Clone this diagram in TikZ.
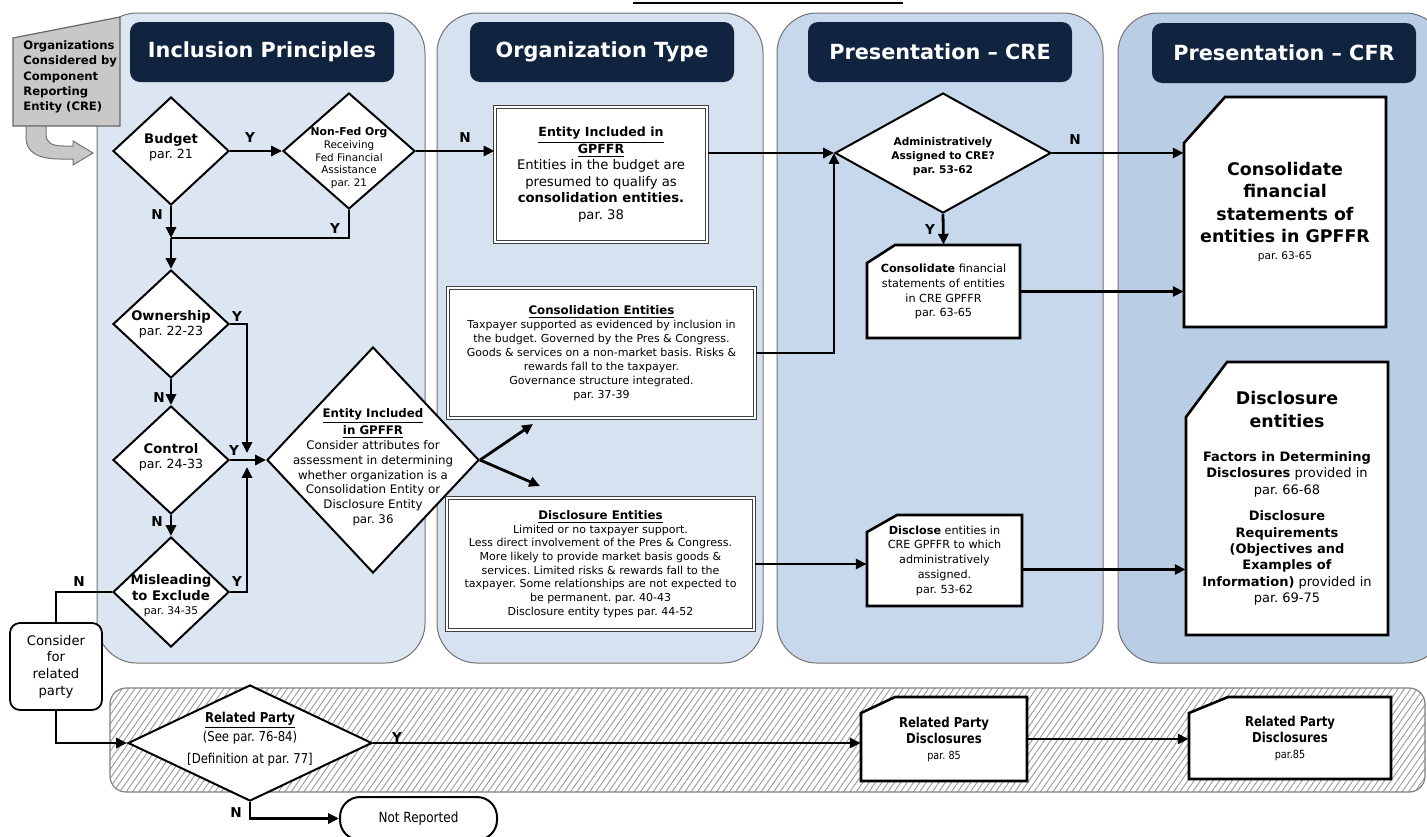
\documentclass[tikz,border=0pt]{standalone}
\usepackage{fontspec}
\setmainfont{DejaVu Sans}
\newfontfamily\condfont{DejaVu Sans}[FakeStretch=0.86]
\usetikzlibrary{arrows.meta,patterns.meta,positioning,shapes.geometric,calc}

\definecolor{laneA}{RGB}{220,230,242}
\definecolor{laneB}{RGB}{214,226,240}
\definecolor{laneC}{RGB}{200,216,236}
\definecolor{laneD}{RGB}{185,205,228}
\definecolor{navy}{RGB}{17,36,63}
\definecolor{startgray}{RGB}{200,200,200}

\newcommand{\fsz}[2]{\fontsize{#1}{#2}\selectfont}

\tikzset{>={Triangle[length=5.4pt,width=5pt]},
  lane/.style={draw=black!55,line width=0.5pt,rounded corners=20pt},
  band/.style={draw=black!50,line width=0.6pt,rounded corners=8pt,preaction={fill=white},
    pattern={Lines[angle=55,distance=2.6pt,line width=0.45pt]},pattern color=black!40},
  header/.style={fill=navy,rounded corners=5pt,text=white,font=\fsz{10.4}{12}\bfseries,
    minimum width=132pt,minimum height=30pt},
  decision/.style={diamond,draw,fill=white,line width=1pt,inner sep=0pt},
  dtext/.style={align=center,inner sep=0pt},
  dbox/.style={draw=black!75,double=white,double distance=1.1pt,line width=0.6pt,
    fill=white,align=flush center,inner sep=2pt},
  snipline/.style={draw=black,fill=white,line width=1.3pt},
  sniptext/.style={align=flush center,inner sep=1pt},
  flow/.style={line width=1.4pt,->},
  line/.style={line width=1.4pt},
  yn/.style={font=\fsz{6.8}{8}\bfseries,inner sep=0pt}
}

\newcommand{\snipbox}[9]{%
  \filldraw[snipline] ({#2-#4/2},{#3-#5/2+#7}) -- ({#2-#4/2+#6},{#3-#5/2}) -- ({#2+#4/2},{#3-#5/2})
    -- ({#2+#4/2},{#3+#5/2}) -- ({#2-#4/2},{#3+#5/2}) -- cycle;
  \node[sniptext,#8,minimum width=#4*0.5pt,minimum height=#5*0.5pt] (#1) at (#2,#3) {#9};}

\begin{document}
\frenchspacing
\begin{tikzpicture}[x=0.5pt,y=-0.5pt]
    \useasboundingbox (0,0) rectangle (1427,836);
    \fill[white] (0,0) rectangle (1427,836);
    \draw[line width=0.6pt] (633,3) -- (903,3);

    % lanes
    \draw[lane,fill=laneA] (97,13) rectangle (425,663);
    \draw[lane,fill=laneB] (437,13) rectangle (763,663);
    \draw[lane,fill=laneC] (777,13) rectangle (1103,663);
    \draw[lane,fill=laneD] (1118,13) rectangle (1445,663);
    \draw[band] (110,688) rectangle (1425,792);

    \node[header] (hdA) at (262,52) {Inclusion Principles};
    \node[header] (hdB) at (602,52) {Organization Type};
    \node[header] (hdC) at (940,52) {Presentation – CRE};
    \node[header] (hdD) at (1284,53) {Presentation – CFR};

    % start
    \filldraw[draw=black!60,fill=startgray,line width=0.6pt] (13,38) -- (120,17) -- (120,126) -- (13,126) -- cycle;
    \node[align=left,inner sep=0pt,anchor=west,font=\fsz{5.8}{7.7}\bfseries] (orgs) at (23,77)
        {Organizations\\Considered by\\Component\\Reporting\\Entity (CRE)};
    \filldraw[draw=black!55,fill=startgray,line width=0.5pt] (26,126) -- (46,126) -- (46,134)
        .. controls (46,143) and (52,146) .. (64,146) -- (73,146) -- (73,141) -- (93,153) -- (73,165)
        -- (73,159) -- (60,159) .. controls (38,159) and (26,152) .. (26,138) -- cycle;

    % inclusion principles
    \node[decision,minimum width=58pt,minimum height=54pt] (budget) at (171,151) {};
    \node[dtext,font=\fsz{6.3}{7.5}] (budgetT) at (171,147) {\textbf{\fsz{6.6}{7.5}Budget}\\par. 21};
    \node[decision,minimum width=66pt,minimum height=58pt] (nonfed) at (349,151) {};
    \node[dtext,font=\fsz{5.2}{6.3}] (nonfedT) at (349,158)
        {\textbf{\fsz{5.4}{6.3}Non-Fed Org}\\Receiving\\Fed Financial\\Assistance\\par. 21};
    \node[decision,minimum width=58pt,minimum height=54pt] (own) at (171,324) {};
    \node[dtext,font=\fsz{6.3}{7.5}] (ownT) at (171,324) {\textbf{\fsz{6.6}{7.5}Ownership}\\par. 22-23};
    \node[decision,minimum width=58pt,minimum height=54pt] (ctrl) at (171,460) {};
    \node[dtext,font=\fsz{6.3}{7.5}] (ctrlT) at (171,457) {\textbf{\fsz{6.6}{7.5}Control}\\par. 24-33};
    \node[decision,minimum width=58pt,minimum height=55pt] (mis) at (171,592) {};
    \node[dtext,font=\fsz{6.6}{8}\bfseries] (misT) at (171,596)
        {Misleading\\to Exclude\\[-1pt]{\fsz{5.3}{7}\mdseries par. 34-35}};
    \node[decision,minimum width=106pt,minimum height=113pt] (entincl) at (373,460) {};
    \node[dtext,font=\fsz{5.9}{7.4}] (entinclT) at (373,467)
        {\textbf{\underline{Entity Included}}\\\textbf{\underline{in GPFFR}}\\Consider attributes for\\
         assessment in determining\\whether organization is a\\Consolidation Entity or\\Disclosure Entity\\par. 36};

    % organization type
    \node[dbox,text width=100pt,minimum width=106pt,minimum height=67.5pt,font=\fsz{6.6}{8.3}] (entgp) at (601,174.5)
        {\textbf{\fsz{6.3}{8.3}\underline{Entity Included in}}\\\textbf{\fsz{6.3}{8.3}\underline{GPFFR}}\\
         Entities in the budget are\\presumed to qualify as\\\textbf{consolidation entities.}\\par. 38};
    \node[dbox,text width=149pt,minimum width=153.5pt,minimum height=65pt,font=\fsz{5.5}{7}] (conse) at (601.5,353)
        {\textbf{\fsz{5.9}{7}\underline{Consolidation Entities}}\\Taxpayer supported as evidenced by inclusion in\\
         the budget. Governed by the Pres \& Congress.\\Goods \& services on a non-market basis. Risks \&\\
         rewards fall to the taxpayer.\\Governance structure integrated.\\par. 37-39};
    \node[dbox,text width=149pt,minimum width=153.5pt,minimum height=66pt,font=\fsz{5.5}{6.85}] (disce) at (600.5,564)
        {\textbf{\fsz{5.9}{6.85}\underline{Disclosure Entities}}\\Limited or no taxpayer support.\\
         Less direct involvement of the Pres \& Congress.\\More likely to provide market basis goods \&\\
         services. Limited risks \& rewards fall to the\\taxpayer. Some relationships are not expected to\\
         be permanent. par. 40-43\\Disclosure entity types par. 44-52};

    % presentation CRE
    \node[decision,minimum width=108pt,minimum height=60pt] (admin) at (943,153) {};
    \node[dtext,font=\fsz{5.3}{7}\bfseries] (adminT) at (943,157) {Administratively\\Assigned to CRE?\\par. 53-62};
    \snipbox{conscre}{943.5}{291.5}{153}{93}{28}{18}{font=\fsz{5.6}{7.4},text width=72pt}
        {\textbf{Consolidate} financial\\statements of entities\\in CRE GPFFR\\par. 63-65}
    \snipbox{disccre}{944.5}{560.5}{155}{91}{30}{17}{font=\fsz{5.6}{7.4},text width=72pt}
        {\textbf{Disclose} entities in\\CRE GPFFR to which\\administratively\\assigned.\\par. 53-62}

    % presentation CFR
    \snipbox{cfrcons}{1285}{212}{202}{230}{41}{46}{font=\fsz{8.7}{11.3}\bfseries,text width=96pt}
        {Consolidate\\financial\\statements of\\entities in GPFFR\\[-2.8pt]{\fsz{5.3}{7}\mdseries par. 63-65}}
    \snipbox{cfrdisc}{1287}{498.5}{202}{273}{41}{55}{font=\fsz{6.5}{8.2},text width=96pt}
        {{\fsz{8.7}{11}\bfseries Disclosure}\\[3pt]{\fsz{8.7}{11}\bfseries entities}\\[9pt]
         \textbf{Factors in Determining}\\\textbf{Disclosures} provided in\\par. 66-68\\[5pt]
         \textbf{Disclosure}\\\textbf{Requirements}\\\textbf{(Objectives and}\\\textbf{Examples of}\\
         \textbf{Information)} provided in\\par. 69-75}

    % related party
    \node[draw,line width=0.9pt,fill=white,rounded corners=5pt,minimum width=46pt,minimum height=43.5pt,
        align=center,font=\fsz{6.6}{8.3},inner sep=1pt] (consider) at (56,666.5) {Consider\\for\\related\\party};
    \node[decision,minimum width=122pt,minimum height=58pt] (rp) at (250,743) {};
    \node[dtext,font=\condfont\fsz{6.8}{8.5}] (rpT) at (250,739)
        {\textbf{\underline{Related Party}}\\(See par. 76-84)\\[2.5pt]{[Definition at par. 77]}};
    \snipbox{rpd1}{944}{739}{166}{84}{34}{16}{font=\condfont\fsz{6.8}{8},text width=78pt}
        {\textbf{Related Party}\\\textbf{Disclosures}\\{\fsz{5.6}{7}par. 85}}
    \snipbox{rpd2}{1290}{738}{202}{82}{39}{16}{font=\condfont\fsz{6.8}{8},text width=96pt}
        {\textbf{Related Party}\\\textbf{Disclosures}\\{\fsz{5.6}{7}par.85}}
    \node[draw,line width=1pt,fill=white,rounded corners=10pt,minimum width=78.5pt,minimum height=21.5pt,
        font=\condfont\fsz{7}{8}] (notrep) at (418.5,818.5) {Not Reported};

    % connectors
    \coordinate (jA) at (171,238);
    \coordinate (jB) at (247,453);
    \coordinate (jC) at (247,467);
    \coordinate (toCons) at (533,424);
    \coordinate (toDisc) at (540,486);
    \draw[flow] (budget.east) -- (nonfed.west);
    \draw[flow] (budget.south) -- (jA);
    \draw[line] (nonfed.south) |- (jA);
    \draw[flow] (jA) -- (own.north);
    \draw[flow] (own.south) -- (ctrl.north);
    \draw[flow] (ctrl.south) -- (mis.north);
    \draw[flow] (own.east) -| (jB);
    \draw[flow] (mis.east) -| (jC);
    \draw[flow] (ctrl.east) -- (entincl.west);
    \draw[line] (mis.west) -| (consider.north);
    \draw[flow] (entincl.east) -- (toCons);
    \draw[flow] (entincl.east) -- (toDisc);
    \draw[flow] (nonfed.east) -- (nonfed.east -| entgp.west);
    \draw[flow] (admin.west -| entgp.east) -- (admin.west);
    \draw[flow] (conse.east) -| (admin.west);
    \draw[flow] (disce.east) -- (disce.east -| disccre.west);
    \draw[flow] (admin.east) -- (admin.east -| cfrcons.west);
    \draw[flow] (admin.south) -- (conscre.north);
    \draw[flow] (conscre.east) -- (conscre.east -| cfrcons.west);
    \draw[flow] ([yshift=-4.5pt]disccre.east) -- ([yshift=-4.5pt]disccre.east -| cfrdisc.west);
    \draw[flow] (consider.south) |- (rp.west);
    \draw[flow] (rp.east) -- (rp.east -| rpd1.west);
    \draw[flow] (rpd1.east) -- (rpd1.east -| rpd2.west);
    \draw[flow] (rp.south) |- (notrep.west);

    % Y/N labels
    \node[yn] (yBud) at (250,138) {Y};
    \node[yn] (nBud) at (157,215) {N};
    \node[yn] (yNon) at (335,229) {Y};
    \node[yn] (nNon) at (465,138) {N};
    \node[yn] (yOwn) at (237,317) {Y};
    \node[yn] (nOwn) at (159,398) {N};
    \node[yn] (yCtl) at (234,451) {Y};
    \node[yn] (nCtl) at (157,522) {N};
    \node[yn] (yMis) at (237,582) {Y};
    \node[yn] (nMis) at (79,582) {N};
    \node[yn] (nAdm) at (1075,140) {N};
    \node[yn] (yAdm) at (930,230) {Y};
    \node[yn] (yRp) at (397,738) {Y};
    \node[yn] (nRp) at (236,813) {N};
\end{tikzpicture}
\end{document}
